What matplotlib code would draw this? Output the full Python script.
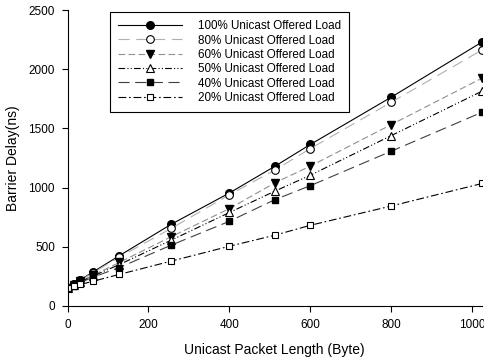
import matplotlib
matplotlib.use("Agg")
import matplotlib.pyplot as plt

plt.rcParams['font.family'] = ['Liberation Sans', 'DejaVu Sans']

# packet lengths (byte)
lengths = [0, 16, 32, 64, 128, 256, 400, 512, 600, 800, 1024]

# barrier delay (ns) per unicast offered load
load_100 = [150, 185, 222, 290, 425, 690, 955, 1180, 1365, 1765, 2230]
load_80 = [150, 182, 218, 283, 413, 655, 940, 1148, 1330, 1722, 2163]
load_60 = [150, 178, 208, 262, 368, 585, 823, 1040, 1182, 1533, 1925]
load_50 = [150, 176, 205, 255, 350, 556, 790, 970, 1105, 1440, 1815]
load_40 = [150, 172, 198, 245, 325, 514, 716, 898, 1017, 1308, 1637]
load_20 = [150, 170, 182, 210, 267, 379, 505, 598, 682, 845, 1035]

labels = ["100% Unicast Offered Load", "80% Unicast Offered Load",
          "60% Unicast Offered Load", "50% Unicast Offered Load",
          "40% Unicast Offered Load", "20% Unicast Offered Load"]

fig = plt.figure(figsize=(4.84, 3.6), dpi=100)
ax = fig.add_axes([0.1395, 0.15, 0.8565, 0.822])

ms = 5.5
ax.plot(lengths, load_100, color="black", lw=0.8, ls="-",
        marker="o", ms=ms, mfc="black", mec="black", label=labels[0])
ax.plot(lengths, load_80, color="#b0b0b0", lw=0.8, ls=(0, (10, 6)),
        marker="o", ms=ms, mfc="white", mec="black", mew=0.8, label=labels[1])
ax.plot(lengths, load_60, color="#909090", lw=0.8, ls=(0, (6, 3)),
        marker="v", ms=ms, mfc="black", mec="black", label=labels[2])
ax.plot(lengths, load_50, color="black", lw=0.8, ls=(0, (6, 2, 1, 2, 1, 2)),
        marker="^", ms=ms, mfc="white", mec="black", mew=0.8, label=labels[3])
ax.plot(lengths, load_40, color="#404040", lw=0.8, ls=(0, (10, 5)),
        marker="s", ms=ms - 0.5, mfc="black", mec="black", label=labels[4])
ax.plot(lengths, load_20, color="black", lw=0.8, ls=(0, (7, 2.5, 1.5, 2.5)),
        marker="s", ms=ms - 0.5, mfc="white", mec="black", mew=0.8, label=labels[5])

ax.set_xlim(0, 1024)
ax.set_ylim(0, 2500)
ax.set_xticks([0, 200, 400, 600, 800, 1000])
ax.set_yticks([0, 500, 1000, 1500, 2000, 2500])
ax.spines['top'].set_visible(False)
ax.spines['right'].set_visible(False)
ax.tick_params(direction="out", length=4, width=0.8, labelsize=8.5, pad=5)
ax.set_xlabel("Unicast Packet Length (Byte)", fontsize=10, labelpad=9)
ax.set_ylabel("Barrier Delay(ns)", fontsize=10, labelpad=6)

leg = ax.legend(loc="upper left", bbox_to_anchor=(0.1025, 0.9935), fontsize=8.4,
                fancybox=False, framealpha=1, edgecolor="black",
                handlelength=5.5, handletextpad=1.3, labelspacing=0.2,
                borderpad=0.7, borderaxespad=0)
leg.get_frame().set_linewidth(0.8)

fig.savefig("out.png", dpi=100)
